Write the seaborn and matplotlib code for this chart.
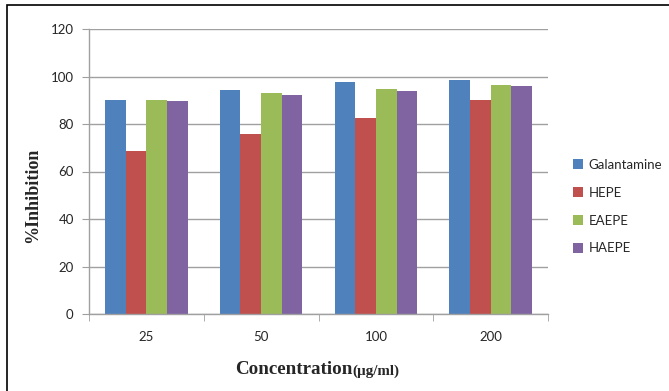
import matplotlib
matplotlib.use("Agg")
import matplotlib.pyplot as plt
import seaborn as sns
import pandas as pd
from matplotlib.patches import Rectangle

concentrations = ["25", "50", "100", "200"]
series = ["Galantamine", "HEPE", "EAEPE", "HAEPE"]
galantamine = [90.2, 94.2, 97.6, 98.5]
hepe = [68.5, 75.8, 82.6, 90.3]
eaepe = [90.2, 93.2, 94.6, 96.6]
haepe = [89.8, 92.3, 93.7, 95.8]
colors = ["#4F81BD", "#C0504D", "#9BBB59", "#8064A2"]

rows = []
for name, vals in zip(series, [galantamine, hepe, eaepe, haepe]):
    for c, v in zip(concentrations, vals):
        rows.append({"Concentration": c, "Series": name, "Value": v})
df = pd.DataFrame(rows)

sns.set_style("white")
plt.rcParams['font.family'] = ['Lato', 'DejaVu Sans']

fig = plt.figure(figsize=(6.69, 3.91), dpi=100)
ax = fig.add_axes([89/669, 1-314/391, (548-89)/669, (314-29)/391])

sns.barplot(data=df, x="Concentration", y="Value", hue="Series",
            order=concentrations, hue_order=series, palette=colors,
            width=0.72, ax=ax, saturation=1, edgecolor="none", linewidth=0,
            legend=True)

ax.set_ylim(0, 120)
ax.set_xlim(-0.5, 3.5)
ax.set_yticks(range(0, 121, 20))
ax.yaxis.grid(True, color="#A0A0A0", linewidth=1.0)
ax.set_axisbelow(True)
for s in ["top", "right"]:
    ax.spines[s].set_visible(False)
for s in ["left", "bottom"]:
    ax.spines[s].set_color("#A0A0A0")
    ax.spines[s].set_linewidth(1.0)

ax.tick_params(axis="y", which="major", length=5, color="#A0A0A0", labelsize=9.5, pad=6, left=True)
ax.tick_params(axis="x", which="major", length=0, labelsize=9.5, pad=12)
ax.set_xticks([-0.5, 0.5, 1.5, 2.5, 3.5], minor=True)
ax.tick_params(axis="x", which="minor", length=5, color="#A0A0A0", bottom=True)

ax.set_ylabel("")
ax.set_xlabel("")
fig.text(33/669, 1-195/391, "%Inhibition", family="Liberation Serif", fontweight="bold",
         fontsize=13, rotation=90, ha="center", va="center")
fig.text(352/669, 1-370/391, "Concentration", family="Liberation Serif", fontweight="bold",
         fontsize=13.7, ha="right", va="center")
fig.text(352/669, 1-371/391, "(\u00b5g/ml)", family="Liberation Serif", fontweight="bold",
         fontsize=10.8, ha="left", va="center")

handles, labels = ax.get_legend_handles_labels()
ax.legend(handles, labels, loc="upper left", bbox_to_anchor=(561/669, 1-147/391),
          bbox_transform=fig.transFigure, frameon=False, fontsize=9.5,
          handlelength=0.8, handleheight=0.8, labelspacing=1.2, handletextpad=0.4)

fig.patches.append(Rectangle((7/669, -0.01), 1.0, 1-5/391+0.01, transform=fig.transFigure,
                             fill=False, edgecolor="black", linewidth=1.2))

fig.savefig("out.png", dpi=100)
